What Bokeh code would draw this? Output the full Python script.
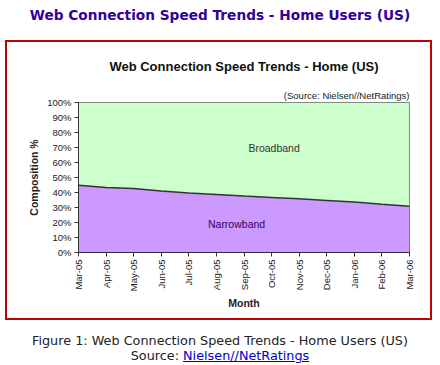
import numpy as np
from bokeh.plotting import figure
from bokeh.layouts import column
from bokeh.models import ColumnDataSource, Label, FixedTicker, Range1d, Title, Div
from bokeh.embed import file_html
from bokeh.resources import INLINE

# ---- data ----
months = ["Mar-05", "Apr-05", "May-05", "Jun-05", "Jul-05", "Aug-05", "Sep-05",
          "Oct-05", "Nov-05", "Dec-05", "Jan-06", "Feb-06", "Mar-06"]
narrowband = [44.9, 43.3, 42.7, 41.0, 39.6, 38.7, 37.6, 36.7, 35.8, 34.7, 33.6, 32.2, 30.9]
broadband = [round(100 - v, 1) for v in narrowband]
y_ticks = [0, 10, 20, 30, 40, 50, 60, 70, 80, 90, 100]
y_tick_labels = ["0%", "10%", "20%", "30%", "40%", "50%", "60%", "70%", "80%", "90%", "100%"]

page_title = "Web Connection Speed Trends - Home Users (US)"
chart_title = "Web Connection Speed Trends - Home (US)"
source_note = "(Source: Nielsen//NetRatings)"
caption = "Figure 1: Web Connection Speed Trends - Home Users (US)"
source_link = "Nielsen//NetRatings"

x = list(range(len(months)))
n = len(months) - 1
src = ColumnDataSource(dict(
    x=x,
    zero=[0] * len(x),
    narrow=narrowband,
    total=[a + b for a, b in zip(narrowband, broadband)],
))

PAGE_W = 440
p = figure(width=427, height=280, output_backend="svg", toolbar_location=None,
           title_location=None,
           x_range=Range1d(0, n), y_range=Range1d(0, 100),
           min_border_left=73, min_border_right=23,
           min_border_top=62, min_border_bottom=68)
p.margin = (0, 8, 0, 5)
p.background_fill_color = "white"
p.border_fill_alpha = 0
p.outline_line_color = "#666666"
p.outline_line_width = 1
p.xgrid.visible = False
p.ygrid.visible = False
p.styles = {"box-shadow": "inset 0 0 0 2px #c00000", "background-color": "white"}

p.varea(x="x", y1="zero", y2="narrow", source=src, fill_color="#cc99ff")
p.varea(x="x", y1="narrow", y2="total", source=src, fill_color="#ccffcc")
p.line(x="x", y="narrow", source=src, line_color="#333333", line_width=1.5)

for ax in (p.xaxis[0], p.yaxis[0]):
    ax.minor_tick_line_color = None
    ax.major_tick_in = 0
    ax.major_tick_out = 4
    ax.axis_line_color = "#333333"
    ax.major_tick_line_color = "#333333"
    ax.major_label_text_font = "Liberation Sans"
    ax.major_label_text_font_size = "9.5px"
    ax.major_label_text_color = "#222222"
    ax.axis_label_text_font = "Liberation Sans"
    ax.axis_label_text_font_size = "10.5px"
    ax.axis_label_text_font_style = "bold"
    ax.axis_label_text_color = "#222222"

p.yaxis.ticker = FixedTicker(ticks=y_ticks)
p.yaxis.major_label_overrides = {t: l for t, l in zip(y_ticks, y_tick_labels)}
p.yaxis.axis_label = "Composition %"
p.yaxis.axis_label_standoff = 4
p.yaxis.major_label_standoff = 3

p.xaxis.ticker = FixedTicker(ticks=x)
p.xaxis.major_label_overrides = {i: m for i, m in zip(x, months)}
p.xaxis.major_label_orientation = np.pi / 2
p.xaxis.axis_label = "Month"
p.xaxis.axis_label_standoff = 3
p.xaxis.major_label_standoff = 3

p.add_layout(Title(text=source_note, align="right", text_font="Liberation Sans",
                   text_font_size="9.5px", text_font_style="normal", text_color="#222222",
                   standoff=4), "above")
p.add_layout(Title(text=chart_title, align="center", text_font="Liberation Sans",
                   text_font_size="13px", text_font_style="bold", text_color="#111111",
                   standoff=23), "above")

p.add_layout(Label(x=7.09, y=70, text="Broadband",
                   text_align="center", text_baseline="middle",
                   text_font="Liberation Sans", text_font_size="10.5px", text_color="#333333"))
p.add_layout(Label(x=5.73, y=19.3, text="Narrowband",
                   text_align="center", text_baseline="middle",
                   text_font="Liberation Sans", text_font_size="10.5px", text_color="#330066"))

title_div = Div(
    text='<div style="width:440px;text-align:center;white-space:nowrap;'
         'font-family:\'DejaVu Sans\';font-weight:bold;font-size:13.7px;'
         'color:#330099;line-height:20px;padding-top:5px">' + page_title + '</div>',
    width=PAGE_W, height=40, margin=0)
cap_div = Div(
    text='<div style="width:440px;text-align:center;white-space:nowrap;'
         'font-family:\'DejaVu Sans\';font-size:12.8px;color:#222222;'
         'line-height:15px;padding-top:13px">' + caption +
         '<br>Source: <a href="#" style="color:#0000cc">' + source_link + '</a></div>',
    width=PAGE_W, height=45, margin=0)

layout = column(title_div, p, cap_div, spacing=0, margin=0)
open("out.html", "w").write(file_html(layout, INLINE))
